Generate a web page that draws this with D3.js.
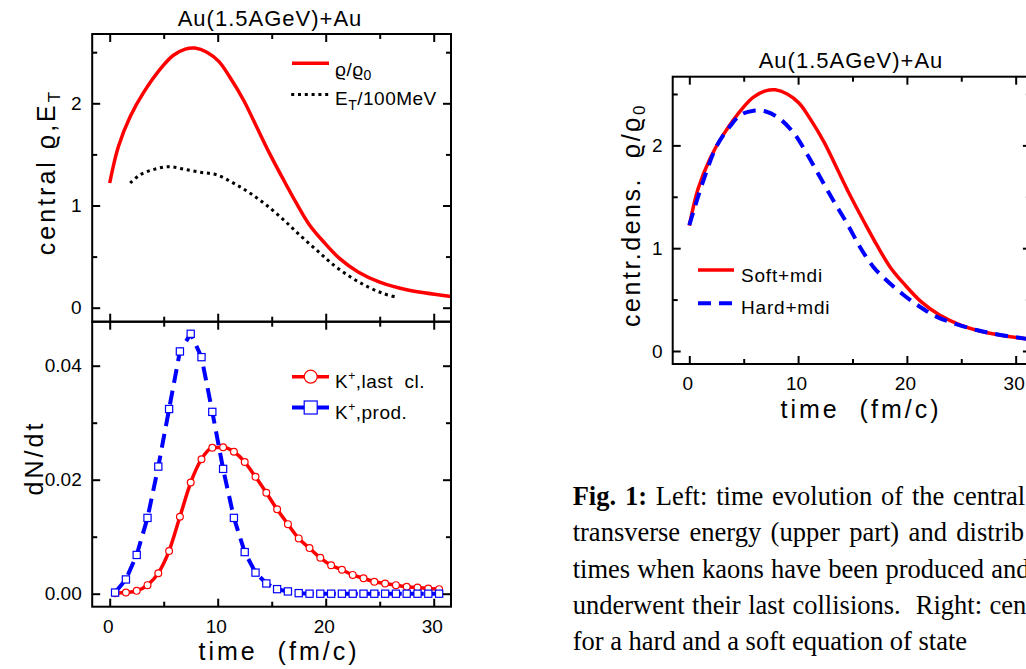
<!DOCTYPE html>
<html><head><meta charset="utf-8">
<script src="https://cdn.jsdelivr.net/npm/d3@7"></script>
<style>
body{margin:0;background:#fff;}
svg{display:block;}
</style></head><body>
<svg id="c" width="1026" height="669"></svg>
<script>
// ---------- DATA ----------
const panelTitle = "Au(1.5AGeV)+Au";
// central density rho/rho0 (Soft+mdi) vs time (fm/c)
const timeRho = [0, 0.8, 1.9, 3.1, 5.0, 5.9, 7.0, 7.9, 9.0, 10.1, 11.1, 12.4, 13.6, 14.8, 16.1, 17.3, 18.5, 19.8, 21.3, 23.0, 25.0, 27.5, 31.6];
const rhoSoft = [1.22, 1.575, 1.87, 2.10, 2.375, 2.47, 2.53, 2.54, 2.50, 2.41, 2.26, 2.03, 1.77, 1.51, 1.25, 1.02, 0.81, 0.645, 0.48, 0.35, 0.25, 0.175, 0.11];
// transverse energy / 100 MeV
const timeEt = [1.9, 2.8, 4.0, 5.4, 6.8, 8.4, 9.9, 11.5, 13.0, 14.5, 16.1, 17.6, 19.2, 20.7, 22.3, 23.8, 25.3, 26.7];
const eT = [1.22, 1.30, 1.35, 1.38, 1.357, 1.325, 1.30, 1.217, 1.12, 1.005, 0.86, 0.71, 0.56, 0.42, 0.30, 0.21, 0.14, 0.098];
// Hard+mdi central density
const timeHard = [0, 1.3, 2.5, 3.7, 4.7, 5.9, 7.1, 8.3, 9.6, 10.8, 12.0, 13.2, 14.5, 15.7, 16.9, 18.1, 19.7, 21.2, 22.7, 24.3, 26.4, 28.6, 31.6];
const rhoHard = [1.225, 1.66, 1.99, 2.18, 2.295, 2.337, 2.327, 2.26, 2.12, 1.92, 1.695, 1.47, 1.24, 1.01, 0.82, 0.69, 0.545, 0.43, 0.334, 0.27, 0.204, 0.156, 0.11];
// kaon dN/dt
const kTime = [0.5, 1.5, 2.5, 3.5, 4.5, 5.5, 6.5, 7.5, 8.5, 9.5, 10.5, 11.5, 12.5, 13.5, 14.5, 15.5, 16.5, 17.5, 18.5, 19.5, 20.5, 21.5, 22.5, 23.5, 24.5, 25.5, 26.5, 27.5, 28.5, 29.5, 30.5];
const kLast = [0.0001, 0.0002, 0.0005, 0.0015, 0.0036, 0.0075, 0.0135, 0.0195, 0.0236, 0.0256, 0.0257, 0.0249, 0.0231, 0.0205, 0.0177, 0.0148, 0.0122, 0.0097, 0.0080, 0.0063, 0.0050, 0.0042, 0.0033, 0.0027, 0.0021, 0.0018, 0.0015, 0.0012, 0.0011, 0.0009, 0.0008];
const kProd = [0.0002, 0.0025, 0.0068, 0.0133, 0.0223, 0.0324, 0.0425, 0.0456, 0.0415, 0.0319, 0.0219, 0.0133, 0.0073, 0.0037, 0.0018, 0.0008, 0.0004, 0.0001, 0, 0, 0, 0, 0, 0, 0, 0, 0, 0, 0, 0, 0];
// ticks
const xMajor = [0, 10, 20, 30], xMinor = [5, 15, 25];
const yTopMajor = [0, 1, 2], yTopMinor = [0.5, 1.5, 2.5];
const yBotMajor = [0, 0.02, 0.04], yBotMinor = [0.01, 0.03];
// caption (as far as it is visible; lines are cut by the picture's right edge)
const captionBold = ["Fig. 1:", "", "", "", ""];
const captionText = [
  " Left: time evolution of the central",
  "transverse energy (upper part) and distrib",
  "times when kaons have been produced and",
  "underwent their last collisions.  Right: cen",
  "for a hard and a soft equation of state"
];
const captionWordSpacing = [2.2, 2.8, 0.6, 0.9, 0];

// ---------- DRAW ----------
const SANS = '"Liberation Sans", Arial, Helvetica, sans-serif';
const SERIF = '"Liberation Serif", "Times New Roman", Times, serif';
const svg = d3.select('#c');
svg.append('rect').attr('width', 1026).attr('height', 669).attr('fill', '#fff');

function frame(g, x, y, o) {
  const [xa, xb] = x.range(), [ya, yb] = y.range();
  const sides = [
    {ax: d3.axisBottom(x), t: `translate(0,${ya})`, maj: o.xMaj, min: o.xMin, fmt: o.xFmt, pad: o.xPad, dx: -2},
    {ax: d3.axisTop(x), t: `translate(0,${yb})`, maj: o.xMaj, min: o.xMin},
    {ax: d3.axisLeft(y), t: `translate(${xa},0)`, maj: o.yMaj, min: o.yMin, fmt: o.yFmt, pad: o.yPad},
    {ax: d3.axisRight(y), t: `translate(${xb},0)`, maj: o.yMaj, min: o.yMin}
  ];
  sides.forEach(s => {
    const gm = g.append('g').attr('transform', s.t)
      .call(s.ax.tickValues(s.maj).tickSizeInner(-8).tickSizeOuter(0).tickPadding(s.pad || 0).tickFormat(s.fmt || (() => '')));
    gm.select('.domain').remove();
    gm.attr('font-family', SANS).attr('font-size', 19);
    gm.selectAll('line').attr('stroke', '#000').attr('stroke-width', 2);
    gm.selectAll('text').attr('fill', '#000');
    if (s.dx) gm.selectAll('text').attr('dx', s.dx);
    const gn = g.append('g').attr('transform', s.t)
      .call(s.ax.tickValues(s.min).tickSizeInner(-5).tickFormat(() => ''));
    gn.select('.domain').remove();
    gn.selectAll('line').attr('stroke', '#000').attr('stroke-width', 2);
  });
  g.append('rect').attr('x', xa).attr('y', yb).attr('width', xb - xa).attr('height', ya - yb)
    .attr('fill', 'none').attr('stroke', '#000').attr('stroke-width', 2);
}

function line(x, y, curve) {
  return d3.line().x(d => x(d[0])).y(d => y(d[1])).curve(curve || d3.curveCatmullRom.alpha(0.5));
}
const zip = (a, b) => a.map((v, i) => [v, b[i]]);

// scales
const xL = d3.scaleLinear().domain([-1.62, 31.6]).range([92.2, 451]);
const yT = d3.scaleLinear().domain([-0.137, 2.678]).range([321.7, 34]);
const yB = d3.scaleLinear().domain([-0.00228, 0.04772]).range([606.7, 321.7]);
const xR = d3.scaleLinear().domain([-1.526, 31.4]).range([672.7, 1030.9]);
const yR = d3.scaleLinear().domain([-0.1265, 2.668]).range([364, 76.7]);

// clip paths
const defs = svg.append('defs');
function clip(id, x, y) {
  defs.append('clipPath').attr('id', id).append('rect')
    .attr('x', x.range()[0]).attr('y', y.range()[1])
    .attr('width', x.range()[1] - x.range()[0]).attr('height', y.range()[0] - y.range()[1]);
}
clip('cT', xL, yT); clip('cB', xL, yB); clip('cR', xR, yR);

// ---- top-left panel ----
const gT = svg.append('g');
const gTd = gT.append('g').attr('clip-path', 'url(#cT)');
gTd.append('path').datum(zip(timeRho, rhoSoft)).attr('d', line(xL, yT))
  .attr('fill', 'none').attr('stroke', '#ff0000').attr('stroke-width', 3.5);
gTd.append('path').datum(zip(timeEt, eT)).attr('d', line(xL, yT))
  .attr('fill', 'none').attr('stroke', '#000').attr('stroke-width', 3).attr('stroke-dasharray', '3 3.8');
frame(gT, xL, yT, {xMaj: xMajor, xMin: xMinor, yMaj: yTopMajor, yMin: yTopMinor, yFmt: d3.format('d'), yPad: 10.5});

// ---- bottom-left panel ----
const gB = svg.append('g');
const gBd = gB.append('g').attr('clip-path', 'url(#cB)');
const lastPts = zip(kTime, kLast), prodPts = zip(kTime, kProd);
gBd.append('path').datum(lastPts).attr('d', line(xL, yB, d3.curveMonotoneX))
  .attr('fill', 'none').attr('stroke', '#ff0000').attr('stroke-width', 3.5);
gBd.selectAll('circle.k').data(lastPts).join('circle').attr('class', 'k')
  .attr('cx', d => xL(d[0])).attr('cy', d => yB(d[1])).attr('r', 3.4)
  .attr('fill', '#fff').attr('stroke', '#ff0000').attr('stroke-width', 1.2);
gBd.append('path').datum(prodPts).attr('d', line(xL, yB, d3.curveLinear))
  .attr('fill', 'none').attr('stroke', '#0000ff').attr('stroke-width', 4).attr('stroke-dasharray', '14 8');
gBd.selectAll('rect.k').data(prodPts).join('rect').attr('class', 'k')
  .attr('x', d => xL(d[0]) - 3.6).attr('y', d => yB(d[1]) - 3.6).attr('width', 7.2).attr('height', 7.2)
  .attr('fill', '#fff').attr('stroke', '#0000ff').attr('stroke-width', 1.2);
frame(gB, xL, yB, {xMaj: xMajor, xMin: xMinor, xFmt: d3.format('d'), xPad: 13, yMaj: yBotMajor, yMin: yBotMinor, yFmt: d3.format('.2f'), yPad: 10.5});

// ---- right panel ----
const gR = svg.append('g');
const gRd = gR.append('g').attr('clip-path', 'url(#cR)');
gRd.append('path').datum(zip(timeRho, rhoSoft)).attr('d', line(xR, yR))
  .attr('fill', 'none').attr('stroke', '#ff0000').attr('stroke-width', 3.5);
gRd.append('path').datum(zip(timeHard, rhoHard)).attr('d', line(xR, yR))
  .attr('fill', 'none').attr('stroke', '#0000ff').attr('stroke-width', 4).attr('stroke-dasharray', '13 8');
frame(gR, xR, yR, {xMaj: xMajor, xMin: xMinor, xFmt: d3.format('d'), xPad: 13, yMaj: yTopMajor, yMin: yTopMinor, yFmt: d3.format('d'), yPad: 10});

// ---- texts ----
function txt(x, y, size, opts) {
  const t = svg.append('text').attr('x', x).attr('y', y).attr('font-family', SANS)
    .attr('font-size', size).attr('fill', '#000').style('white-space', 'pre');
  if (opts && opts.anchor) t.attr('text-anchor', opts.anchor);
  if (opts && opts.ls) t.attr('letter-spacing', opts.ls);
  if (opts && opts.rot) t.attr('transform', `rotate(-90,${x},${y})`);
  return t;
}
function addParts(t, parts) {
  parts.forEach(p => {
    const s = t.append('tspan').text(p.s);
    if (p.dy) s.attr('dy', p.dy);
    if (p.fs) s.attr('font-size', p.fs);
  });
}
// titles
txt(270, 26, 22, {anchor: 'middle', ls: 1}).text(panelTitle);
txt(851, 68, 22, {anchor: 'middle', ls: 1}).text(panelTitle);
// x titles
txt(279, 660, 25, {anchor: 'middle', ls: 3}).text('time  (fm/c)');
txt(861, 418, 25, {anchor: 'middle', ls: 3}).text('time  (fm/c)');
// y titles
addParts(txt(55, 172, 25, {anchor: 'middle', ls: 3, rot: true}),
  [{s: 'central ϱ,E'}, {s: 'T', fs: 17, dy: 5}, {s: '', dy: -5}]);
addParts(txt(43, 458, 25, {anchor: 'middle', ls: 3, rot: true}), [{s: 'dN/dt'}]);
addParts(txt(640, 215, 25, {anchor: 'middle', ls: 2.5, rot: true}),
  [{s: 'centr.dens.  ϱ/ϱ'}, {s: '0', fs: 17, dy: 5}]);

// legends
function legendLine(x1, x2, y, stroke, w, dash) {
  const l = svg.append('line').attr('x1', x1).attr('x2', x2).attr('y1', y).attr('y2', y)
    .attr('stroke', stroke).attr('stroke-width', w);
  if (dash) l.attr('stroke-dasharray', dash);
}
legendLine(292, 329, 63.3, '#ff0000', 3.5);
addParts(txt(335, 76, 19, {ls: 0.5}), [{s: 'ϱ/ϱ'}, {s: '0', fs: 14, dy: 4}]);
legendLine(291.2, 329, 94.5, '#000', 3, '3 3.8');
addParts(txt(335, 105, 19, {ls: 0.5}), [{s: 'E'}, {s: 'T', fs: 14, dy: 5}, {s: '/100MeV', dy: -5}]);

legendLine(292, 329, 376.7, '#ff0000', 3.5);
svg.append('circle').attr('cx', 310.7).attr('cy', 376.7).attr('r', 6.5).attr('fill', '#fff').attr('stroke', '#ff0000').attr('stroke-width', 1.2);
addParts(txt(335, 388, 19, {ls: 0.5}), [{s: 'K'}, {s: '+', fs: 12, dy: -8}, {s: ',last  cl.', dy: 8}]);
legendLine(292, 329, 407.5, '#0000ff', 4);
svg.append('rect').attr('x', 304.2).attr('y', 401).attr('width', 13).attr('height', 13).attr('fill', '#fff').attr('stroke', '#0000ff').attr('stroke-width', 1.2);
addParts(txt(335, 419, 19, {ls: 0.5}), [{s: 'K'}, {s: '+', fs: 12, dy: -8}, {s: ',prod.', dy: 8}]);

legendLine(698, 734, 270, '#ff0000', 3.5);
txt(741, 281.5, 19, {ls: 0.8}).text('Soft+mdi');
legendLine(698, 734, 303.3, '#0000ff', 4, '13 8');
txt(741, 314, 19, {ls: 0.8}).text('Hard+mdi');

// caption
const capX = 572.7, capY0 = 505, capDy = 36.3;
captionText.forEach((s, i) => {
  const t = svg.append('text').attr('x', capX).attr('y', capY0 + i * capDy)
    .attr('font-family', SERIF).attr('font-size', 26.5).attr('fill', '#000')
    .attr('word-spacing', captionWordSpacing[i]).style('white-space', 'pre');
  if (captionBold[i]) t.append('tspan').attr('font-weight', 'bold').text(captionBold[i]);
  t.append('tspan').text(s);
});
</script>
</body></html>
